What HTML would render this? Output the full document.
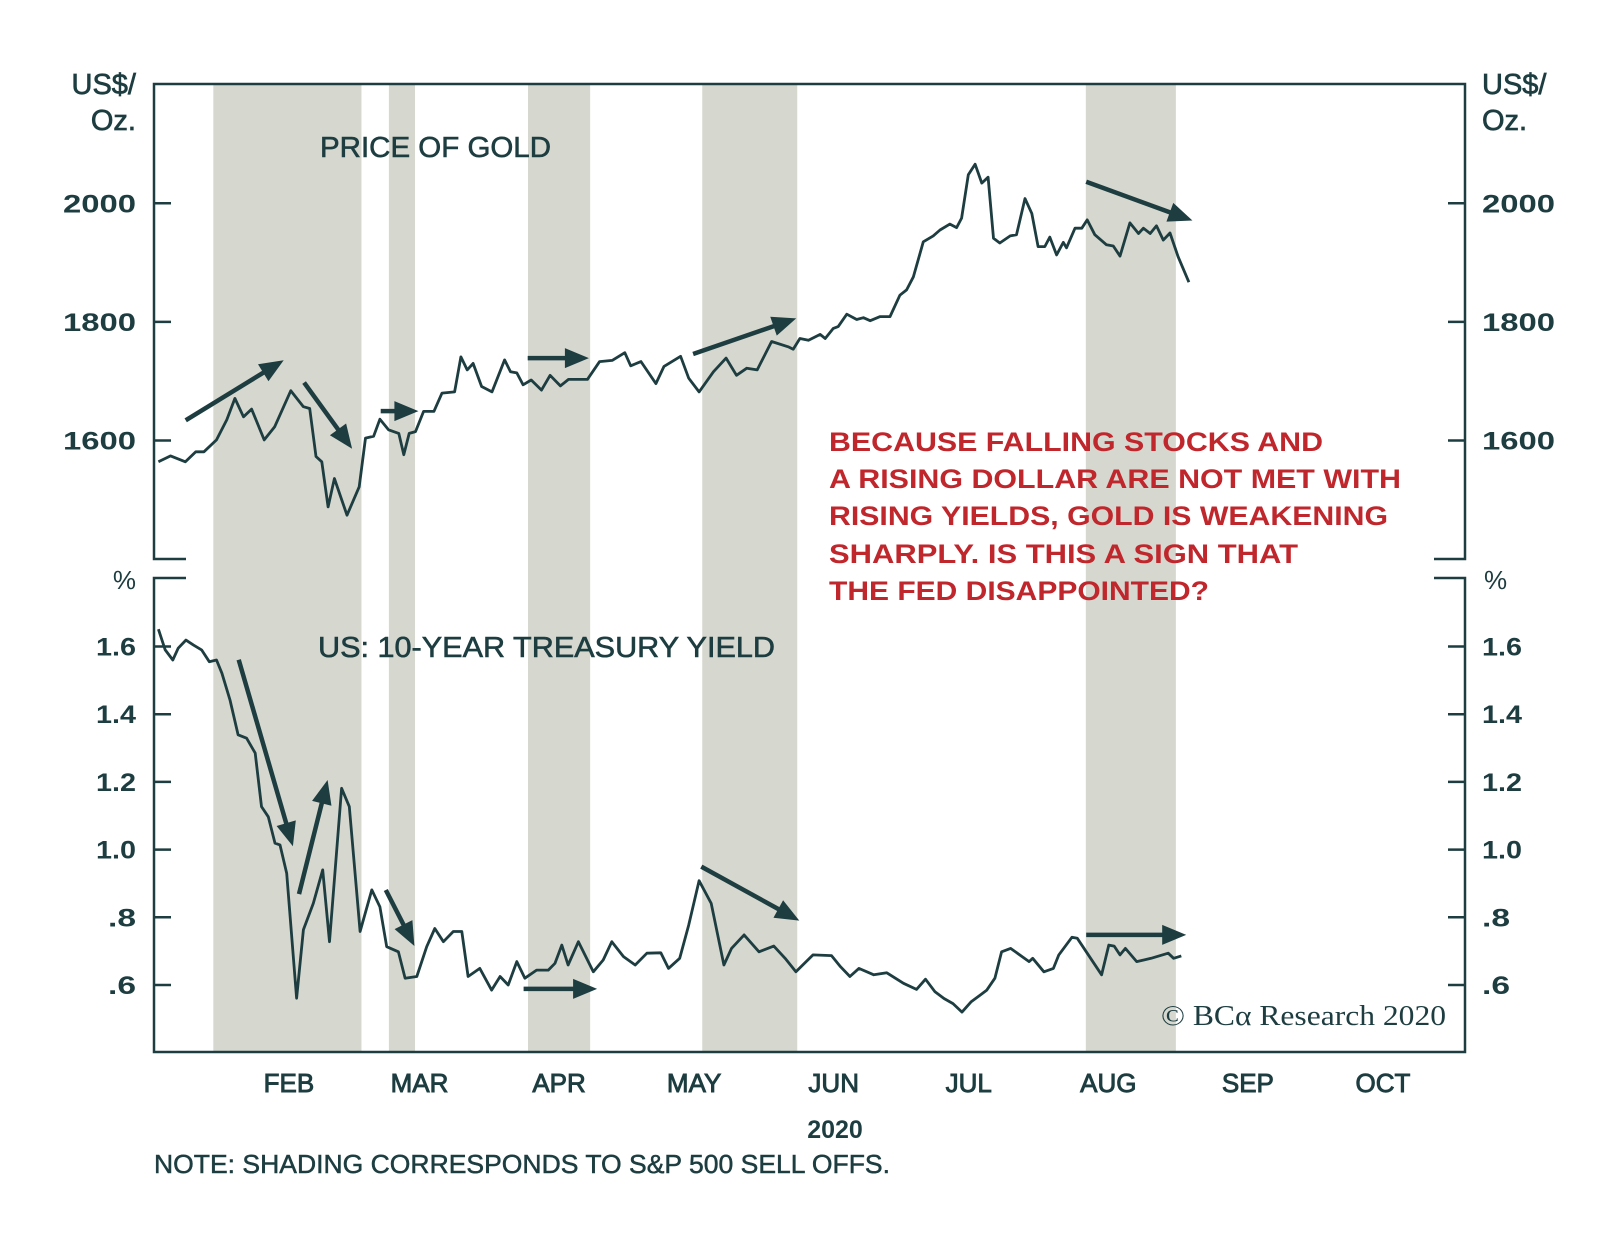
<!DOCTYPE html>
<html>
<head>
<meta charset="utf-8">
<style>
  html,body{margin:0;padding:0;background:#fff;}
  svg{display:block;}
  text{font-family:"Liberation Sans",sans-serif;fill:#1d3d40;}
</style>
</head>
<body>
<svg id="chart" width="1600" height="1247" viewBox="0 0 1600 1247" xmlns="http://www.w3.org/2000/svg">
  <g id="shades"></g>
  <g id="frame" fill="none" stroke="#1d3d40" stroke-width="2.5">
    <path d="M186,559 H154 V84 H1465 V559 H1434"/>
    <path d="M186,578 H154 V1052 H1465 V578 H1434"/>
  </g>
  <g id="ticks" stroke="#1d3d40" stroke-width="2.5"></g>
  <g id="labels"></g>
  <g id="series"></g>
  <g id="arrows"></g>

  <text x="136" y="94" text-anchor="end" font-size="29" stroke="#1d3d40" stroke-width="0.7">US$/</text>
  <text x="136" y="130" text-anchor="end" font-size="29" stroke="#1d3d40" stroke-width="0.7">Oz.</text>
  <text x="1482" y="94" font-size="29" stroke="#1d3d40" stroke-width="0.7">US$/</text>
  <text x="1482" y="130" font-size="29" stroke="#1d3d40" stroke-width="0.7">Oz.</text>
  <text x="136" y="589" text-anchor="end" font-size="26">%</text>
  <text x="1484" y="589" font-size="26">%</text>

  <text x="320" y="157" font-size="29" textLength="231" lengthAdjust="spacingAndGlyphs" stroke="#1d3d40" stroke-width="0.6">PRICE OF GOLD</text>
  <text x="318" y="657" font-size="29" textLength="457" lengthAdjust="spacingAndGlyphs" stroke="#1d3d40" stroke-width="0.6">US: 10-YEAR TREASURY YIELD</text>

  <g font-size="27" font-weight="bold">
    <text x="829" y="451" style="fill:#c0272d" textLength="494" lengthAdjust="spacingAndGlyphs">BECAUSE FALLING STOCKS AND</text>
    <text x="829" y="488" style="fill:#c0272d" textLength="572" lengthAdjust="spacingAndGlyphs">A RISING DOLLAR ARE NOT MET WITH</text>
    <text x="829" y="525" style="fill:#c0272d" textLength="559" lengthAdjust="spacingAndGlyphs">RISING YIELDS, GOLD IS WEAKENING</text>
    <text x="829" y="563" style="fill:#c0272d" textLength="469" lengthAdjust="spacingAndGlyphs">SHARPLY. IS THIS A SIGN THAT</text>
    <text x="829" y="600" style="fill:#c0272d" textLength="380" lengthAdjust="spacingAndGlyphs">THE FED DISAPPOINTED?</text>
  </g>

  <text x="1161" y="1025" style="font-family:'Liberation Serif',serif" font-size="28" textLength="285" lengthAdjust="spacingAndGlyphs">© BCα Research 2020</text>
  <text x="835" y="1138" text-anchor="middle" font-size="25" font-weight="bold">2020</text>
  <text x="154" y="1173" font-size="26" textLength="736" lengthAdjust="spacingAndGlyphs" stroke="#1d3d40" stroke-width="0.5">NOTE: SHADING CORRESPONDS TO S&amp;P 500 SELL OFFS.</text>
</svg>
<script>
// ---- data ----
const shadeStarts = [14.2, 53.2, 84.1, 122.8, 208.0];
const shadeEnds   = [47.1, 59.0, 97.9, 143.9, 228.0];

const monthLabels = ["FEB","MAR","APR","MAY","JUN","JUL","AUG","SEP","OCT"];
const monthDays   = [31, 60, 91, 121, 152, 182, 213, 244, 274];

const goldTicks = [2000, 1800, 1600];
const yieldTicks = [1.6, 1.4, 1.2, 1.0, 0.8, 0.6];
const yieldTickLabels = ["1.6","1.4","1.2","1.0",".8",".6"];

const goldDays = [2.0,4.7,8.0,10.3,12.1,14.9,17.2,19.0,20.9,22.7,25.5,27.8,31.4,34.2,35.6,37.0,38.3,39.7,41.1,43.9,46.6,48.0,49.8,51.2,53.1,55.4,56.5,57.7,59.1,60.9,63.2,65.0,67.8,69.2,70.6,71.9,73.8,76.1,78.9,80.2,81.6,83.0,84.8,87.1,89.0,91.3,93.1,97.3,100.0,102.8,105.6,106.9,109.2,112.5,114.3,118.0,119.8,122.1,125.3,128.1,130.4,132.7,135.0,138.2,141.9,143.0,144.5,146.4,149.0,150.1,151.9,153.0,154.9,157.1,158.6,160.1,162.3,164.5,166.7,168.2,169.7,171.9,174.1,175.6,177.8,179.3,180.4,181.9,183.4,184.9,186.3,187.5,188.9,191.2,192.6,194.5,196.0,197.4,198.9,200.0,201.5,203.0,203.7,205.6,207.1,208.3,210.0,212.6,214.1,215.6,217.8,219.7,220.8,222.3,223.7,225.2,226.7,228.5,230.9];
const goldValues = [1564,1574,1564,1581,1581,1601,1635,1671,1640,1653,1601,1623,1684,1657,1654,1573,1564,1488,1536,1474,1522,1604,1607,1636,1618,1612,1576,1612,1615,1649,1649,1680,1682,1741,1719,1730,1691,1682,1736,1716,1714,1694,1702,1685,1710,1692,1703,1703,1733,1735,1748,1726,1733,1696,1725,1742,1705,1682,1716,1739,1710,1722,1719,1767,1758,1754,1772,1769,1779,1772,1789,1792,1813,1804,1807,1802,1809,1809,1845,1854,1876,1935,1945,1955,1965,1959,1975,2048,2066,2034,2044,1941,1933,1945,1947,2008,1983,1927,1927,1943,1913,1934,1925,1958,1958,1972,1947,1930,1928,1911,1967,1949,1958,1949,1962,1938,1950,1910,1867];

const yieldDays = [2.0,3.5,5.2,6.4,8.1,9.8,11.6,13.3,14.9,16.1,17.9,19.7,21.6,23.5,24.9,26.4,27.9,29.0,30.5,32.7,34.2,36.4,38.5,40.0,42.7,44.4,46.8,49.4,51.2,52.7,55.3,56.8,59.4,61.6,63.4,65.3,67.5,69.4,70.8,73.4,76.0,77.9,79.7,81.6,83.4,86.0,88.6,90.1,91.6,93.0,95.3,98.6,100.8,102.7,105.3,107.9,110.5,113.6,115.3,117.8,119.8,122.1,124.8,127.6,129.3,132.1,135.4,138.7,141.2,143.6,147.4,151.5,153.5,155.6,157.6,160.9,163.8,167.5,170.4,172.4,174.5,176.5,178.5,180.5,182.5,184.5,186.0,187.8,189.3,191.3,195.4,196.2,198.7,200.8,202.0,204.9,206.1,211.5,213.1,214.3,215.6,216.8,219.3,222.5,226.3,227.5,229.2];
const yieldValues = [1.651,1.590,1.560,1.595,1.619,1.604,1.590,1.555,1.560,1.521,1.442,1.339,1.329,1.285,1.127,1.097,1.019,1.014,0.930,0.561,0.763,0.841,0.940,0.728,1.181,1.127,0.758,0.881,0.831,0.713,0.698,0.620,0.625,0.713,0.767,0.728,0.758,0.758,0.625,0.649,0.585,0.625,0.600,0.669,0.620,0.644,0.644,0.664,0.718,0.659,0.728,0.639,0.674,0.728,0.684,0.659,0.694,0.695,0.649,0.679,0.777,0.908,0.841,0.659,0.708,0.748,0.698,0.715,0.679,0.639,0.689,0.687,0.654,0.625,0.649,0.630,0.636,0.605,0.587,0.617,0.580,0.560,0.545,0.520,0.550,0.570,0.585,0.620,0.698,0.708,0.669,0.679,0.639,0.649,0.689,0.741,0.738,0.630,0.718,0.715,0.689,0.708,0.669,0.679,0.694,0.679,0.686];

// ---- scales ----
function xScale(d){ return 149.4 + d*4.502; }
function goldY(v){ return 203.3 + (2000 - v)*118.6/200; }
function yieldY(v){ return 646.5 + (1.6 - v)*67.7/0.2; }

const NS = "http://www.w3.org/2000/svg";
const COL = "#1d3d40";
function mk(tag, attrs, parent){
  const e = document.createElementNS(NS, tag);
  for (const k in attrs) e.setAttribute(k, attrs[k]);
  parent.appendChild(e);
  return e;
}
function labelWidth(s){ return s.length===4 ? 73 : (s.length===3 ? 40 : 28); }

// shading
const shadeG = document.getElementById("shades");
for (let i=0;i<shadeStarts.length;i++){
  const r = mk("rect", {x:xScale(shadeStarts[i]), y:85, width:xScale(shadeEnds[i])-xScale(shadeStarts[i]), height:966, fill:"#d6d7cf"}, shadeG);
  
  
}

// ticks & labels
const tickG = document.getElementById("ticks");
const labG = document.getElementById("labels");
function addTickLabels(y, s, nameL, nameR){
  const w = labelWidth(s);
  const a = mk("text",{x:136-w,y:y+9,"font-size":25,"font-weight":"bold",textLength:w,lengthAdjust:"spacingAndGlyphs"},labG);
  a.textContent = s;
  
  
  const b = mk("text",{x:1482,y:y+9,"font-size":25,"font-weight":"bold",textLength:w,lengthAdjust:"spacingAndGlyphs"},labG);
  b.textContent = s;
  
  
}
goldTicks.forEach(v=>{
  const y = goldY(v);
  const t1 = mk("line",{x1:154,x2:171,y1:y,y2:y},tickG);
  
  
  const t2 = mk("line",{x1:1448,x2:1465,y1:y,y2:y},tickG);
  
  
  addTickLabels(y, String(v), 'gold-tick-label-left', 'gold-tick-label-right');
});
yieldTicks.forEach((v,i)=>{
  const y = yieldY(v);
  const t1 = mk("line",{x1:154,x2:171,y1:y,y2:y},tickG);
  
  
  const t2 = mk("line",{x1:1448,x2:1465,y1:y,y2:y},tickG);
  
  
  addTickLabels(y, yieldTickLabels[i], 'yield-tick-label-left', 'yield-tick-label-right');
});
monthLabels.forEach((m,i)=>{
  const t = mk("text",{x:xScale(monthDays[i]),y:1092,"text-anchor":"middle","font-size":26,stroke:COL,"stroke-width":0.9},labG);
  t.textContent = m;
  
  
});

// series
const serG = document.getElementById("series");
function linePath(days, vals, yf){
  return days.map((d,i)=>(i?"L":"M")+xScale(d).toFixed(1)+","+yf(vals[i]).toFixed(1)).join(" ");
}
const gl = mk("path",{d:linePath(goldDays,goldValues,goldY),fill:"none",stroke:COL,"stroke-width":2.8,"stroke-linejoin":"round"},serG);


const yl = mk("path",{d:linePath(yieldDays,yieldValues,yieldY),fill:"none",stroke:COL,"stroke-width":2.8,"stroke-linejoin":"round"},serG);



// arrows (annotation, pixel positions)
const arrG = document.getElementById("arrows");
const arrowSegs = [
  [185.7,420.3,283.7,360.2],[304.1,382.6,352.1,448.8],[380.7,411.1,418.4,411.1],
  [527.7,358.1,588.9,358.1],[693.1,354,796.2,318.4],[1086.2,181.8,1192.4,220.5],
  [238.7,659.7,292.9,846.2],[299,894.1,327.6,780],[385.8,890,414.4,946],
  [523.6,988.9,597.1,988.9],[701.3,866.6,799.3,920.6],[1086.2,934.9,1186.2,934.9]
];
arrowSegs.forEach(s=>{
  const [x1,y1,x2,y2] = s;
  const dx=x2-x1, dy=y2-y1, L=Math.hypot(dx,dy), ux=dx/L, uy=dy/L;
  const hl=24, hw=10;
  const bx=x2-ux*hl, by=y2-uy*hl;
  const g = mk("g",{},arrG);
  
  
  mk("line",{x1:x1,y1:y1,x2:bx+ux*2,y2:by+uy*2,stroke:COL,"stroke-width":4.5},g);
  mk("polygon",{points:`${x2},${y2} ${bx-uy*hw},${by+ux*hw} ${bx+uy*hw},${by-ux*hw}`,fill:COL},g);
});
</script>
</body>
</html>
